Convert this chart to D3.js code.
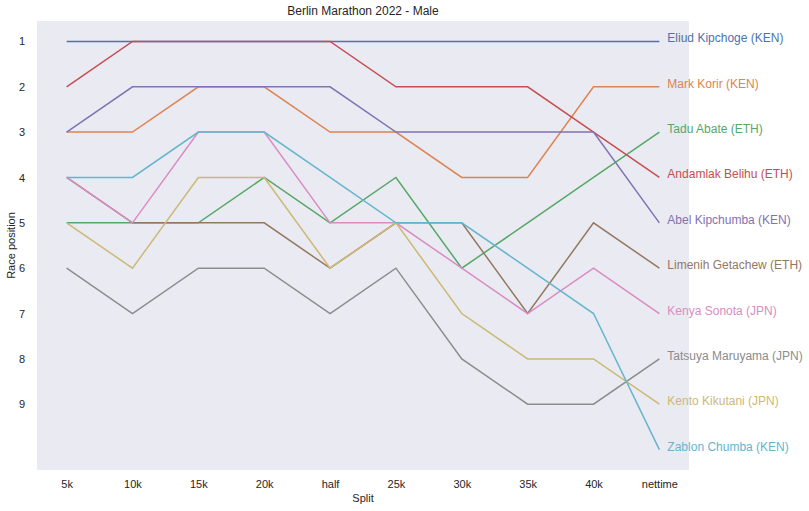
<!DOCTYPE html>
<html>
<head>
<meta charset="utf-8">
<script src="https://cdn.jsdelivr.net/npm/d3@7"></script>
<style>
	body {margin:0; background:#fff;}
	text {font-family:"Liberation Sans", Arial, sans-serif;}
</style>
</head>
<body>
<div class="chart"></div>
<script>
var splits = ["5k","10k","15k","20k","half","25k","30k","35k","40k","nettime"]
var yTicks = [1,2,3,4,5,6,7,8,9]

var runners = ["Eliud Kipchoge (KEN)","Mark Korir (KEN)","Tadu Abate (ETH)","Andamlak Belihu (ETH)","Abel Kipchumba (KEN)","Limenih Getachew (ETH)","Kenya Sonota (JPN)","Tatsuya Maruyama (JPN)","Kento Kikutani (JPN)","Zablon Chumba (KEN)"]
var colors = ["#4c72b0","#dd8452","#55a868","#c44e52","#8172b3","#937860","#da8bc3","#8c8c8c","#ccb974","#64b5cd"]

var kipchoge  = [1,1,1,1,1,1,1,1,1,1]
var korir     = [3,3,2,2,3,3,4,4,2,2]
var abate     = [5,5,5,4,5,4,6,5,4,3]
var belihu    = [2,1,1,1,1,2,2,2,3,4]
var kipchumba = [3,2,2,2,2,3,3,3,3,5]
var getachew  = [4,5,5,5,6,5,5,7,5,6]
var sonota    = [4,5,3,3,5,5,6,7,6,7]
var maruyama  = [6,7,6,6,7,6,8,9,9,8]
var kikutani  = [5,6,4,4,6,5,7,8,8,9]
var chumba    = [4,4,3,3,4,5,5,6,7,10]

var positions = [kipchoge,korir,abate,belihu,kipchumba,getachew,sonota,maruyama,kikutani,chumba]

var width = 809, height = 511
var svg = d3.select(".chart").append("svg").attr("width",width).attr("height",height)

//scales
var x = d3.scaleLinear().domain([-0.45, splits.length - 1 + 0.45]).range([37,689])
var y = d3.scaleLinear().domain([0.55, 10.45]).range([21,470])

svg.append("rect").attr("x",x.range()[0]).attr("y",y.range()[0])
	.attr("width",x.range()[1]-x.range()[0]).attr("height",y.range()[1]-y.range()[0])
	.attr("fill","#eaeaf2")

//axes
var xAxis = svg.append("g").attr("transform","translate(0,"+y.range()[1]+")")
	.call(d3.axisBottom(x).tickValues(d3.range(splits.length)).tickFormat(function(d){return splits[d]}).tickSize(0).tickPadding(10))
var yAxis = svg.append("g").attr("transform","translate("+x.range()[0]+",0)")
	.call(d3.axisLeft(y).tickValues(yTicks).tickSize(0).tickPadding(12))
svg.selectAll(".domain").remove()
svg.selectAll(".tick text").attr("fill","#262626").style("font-size","11px")

//lines
var line = d3.line().x(function(d,i){return x(i)}).y(function(d){return y(d)})
positions.forEach(function(p,i) {
	svg.append("path").datum(p).attr("d",line)
		.attr("fill","none").attr("stroke",colors[i]).attr("stroke-width",1.5)
})

//labels
svg.append("g").selectAll("text").data(positions).enter().append("text")
	.attr("x",x(splits.length-1)+8)
	.attr("y",function(d){return y(d[d.length-1])+1})
	.attr("fill",function(d,i){return colors[i]})
	.style("font-size","12px")
	.text(function(d,i){return runners[i]})

svg.append("text").attr("x",(x.range()[0]+x.range()[1])/2).attr("y",15)
	.attr("text-anchor","middle").attr("fill","#262626").style("font-size","12px")
	.text("Berlin Marathon 2022 - Male")
svg.append("text").attr("x",(x.range()[0]+x.range()[1])/2).attr("y",502)
	.attr("text-anchor","middle").attr("fill","#262626").style("font-size","11px")
	.text("Split")
svg.append("text").attr("transform","translate(15,"+(y.range()[0]+y.range()[1])/2+") rotate(-90)")
	.attr("text-anchor","middle").attr("fill","#262626").style("font-size","11px")
	.text("Race position")
</script>
</body>
</html>
